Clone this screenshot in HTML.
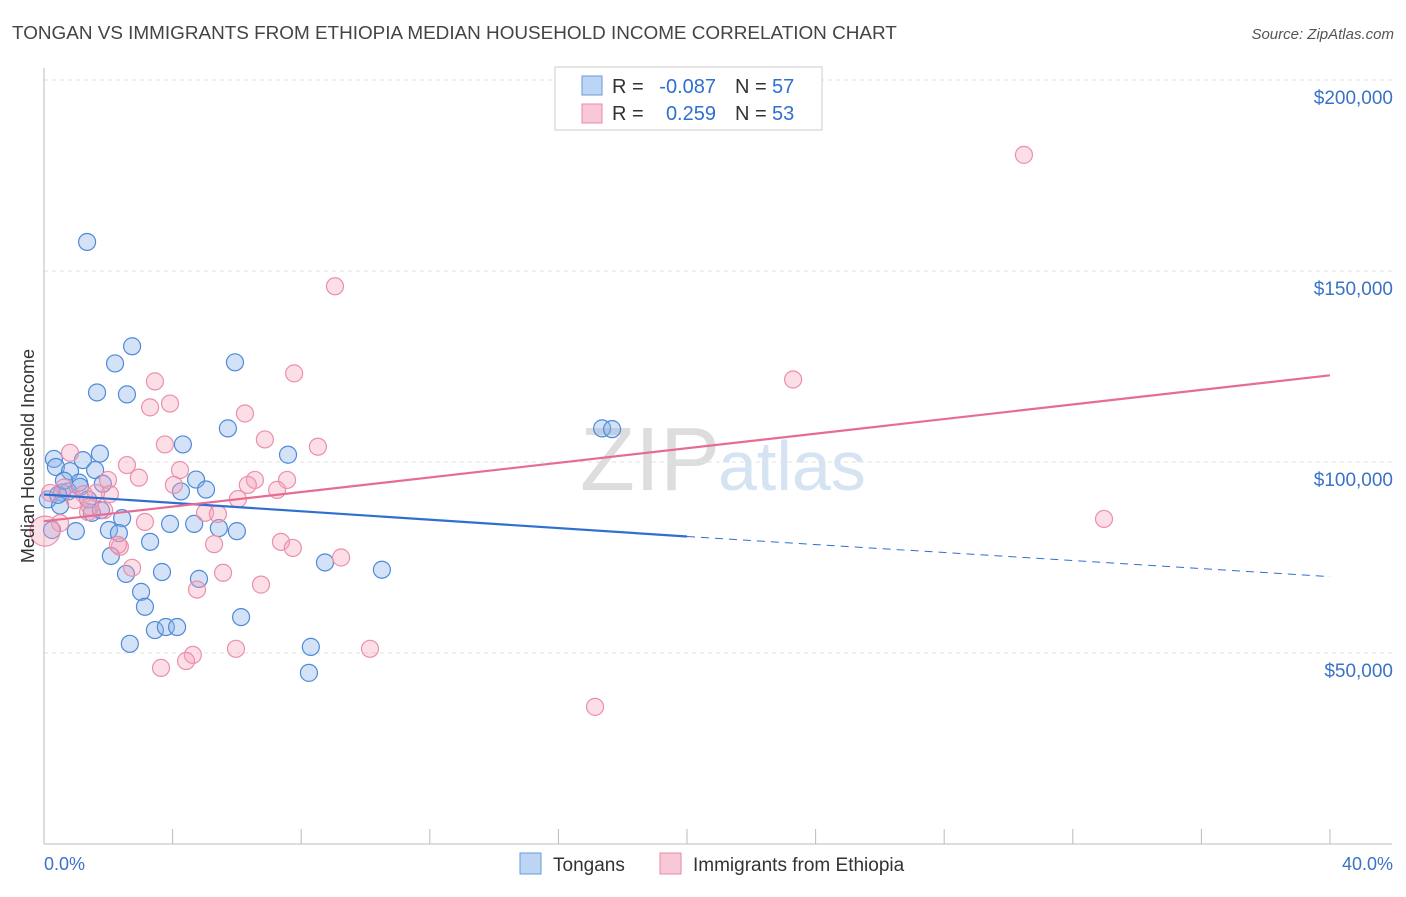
<!DOCTYPE html>
<html><head><meta charset="utf-8"><style>
body{margin:0;background:#fff;font-family:"Liberation Sans",sans-serif}
svg text{font-family:"Liberation Sans",sans-serif}
</style></head><body>
<svg width="1406" height="892" viewBox="0 0 1406 892" xmlns="http://www.w3.org/2000/svg">
<text x="12" y="39" font-size="18.9" fill="#444">TONGAN VS IMMIGRANTS FROM ETHIOPIA MEDIAN HOUSEHOLD INCOME CORRELATION CHART</text>
<text x="1394" y="39" font-size="15" fill="#555" font-style="italic" text-anchor="end">Source: ZipAtlas.com</text>
<text x="720" y="490" font-size="90" fill="#ddd" text-anchor="end" font-family="Liberation Serif">ZIP</text>
<text x="718" y="490" font-size="70" fill="#d5e3f3">atlas</text>
<g id="grid"></g>
<g id="axes"></g>
<g id="pts"></g>
<g id="trend"></g>
<text transform="translate(34,456) rotate(-90)" font-size="18" fill="#333" text-anchor="middle">Median Household Income</text>
<g>
<rect x="555" y="67" width="267" height="63" fill="#fff" stroke="#ccc"/>
<rect x="582" y="76" width="20" height="19" fill="#bcd5f5" stroke="#6a9ad8"/>
<rect x="582" y="104" width="20" height="19" fill="#f9c8d6" stroke="#e88aa6"/>
<text x="612" y="93" font-size="20" fill="#333">R =</text>
<text x="716" y="93" font-size="20" fill="#2e6fd0" text-anchor="end">-0.087</text>
<text x="735" y="93" font-size="20" fill="#333">N =</text>
<text x="772" y="93" font-size="20" fill="#2e6fd0">57</text>
<text x="612" y="120" font-size="20" fill="#333">R =</text>
<text x="716" y="120" font-size="20" fill="#2e6fd0" text-anchor="end">0.259</text>
<text x="735" y="120" font-size="20" fill="#333">N =</text>
<text x="772" y="120" font-size="20" fill="#2e6fd0">53</text>
</g>
<g>
<rect x="520" y="853" width="21" height="21" fill="#bcd5f5" stroke="#6a9ad8"/>
<text x="553" y="871" font-size="19" fill="#333">Tongans</text>
<rect x="660" y="853" width="21" height="21" fill="#f9c8d6" stroke="#e88aa6"/>
<text x="693" y="871" font-size="19" fill="#333">Immigrants from Ethiopia</text>
</g>
<text x="44" y="870" font-size="18" fill="#3a72c8">0.0%</text>
<text x="1393" y="870" font-size="18" fill="#3a72c8" text-anchor="end">40.0%</text>
</svg>
<script>
const yTicks=[50000,100000,150000,200000];
const yTickLabels=["$50,000","$100,000","$150,000","$200,000"];
const tonX=[1.34,2.74,2.21,5.94,1.65,2.58,17.36,17.67,5.72,4.32,1.74,7.59,0.31,1.21,0.37,0.81,1.59,1.83,1.09,4.73,0.56,0.75,4.26,5.04,0.12,0.50,1.49,1.77,2.43,3.92,4.67,5.44,6.00,0.99,2.02,2.33,3.30,2.08,8.74,10.51,2.55,3.67,4.82,3.02,3.14,6.13,3.45,3.79,4.14,2.67,8.30,8.24,0.25,1.12,0.44,1.37,0.62];
const tonY=[157600,130300,125800,126100,118200,117700,108800,108600,108800,104600,102200,101900,100800,100500,98700,97600,97900,94300,94600,95400,92000,92300,92300,92800,90200,88600,86700,87400,85300,83800,83800,82700,81900,81900,82200,81400,79100,75400,73700,71800,70700,71200,69400,66000,62100,59400,56000,56800,56800,52400,51600,44800,82200,93500,91400,90200,95100];
const ethX=[30.48,9.05,7.78,23.30,3.45,3.92,3.30,6.25,6.87,3.76,8.52,0.81,2.58,4.23,2.95,6.56,1.99,4.04,7.56,6.34,7.25,0.62,1.24,0.19,6.03,2.05,1.87,1.43,5.01,5.41,32.97,3.14,0.50,0.03,7.37,2.36,5.29,7.74,2.30,9.24,2.74,5.57,6.75,4.76,5.97,10.14,4.63,4.42,3.64,17.14,1.62,0.96,1.37];
const ethY=[180400,146000,123200,121600,121100,115300,114300,112700,105900,104600,104000,102400,99200,97900,95900,95300,95300,94000,95300,94000,92700,93300,91600,91900,90300,91600,87400,88300,86700,86400,85100,84300,84000,81900,79100,77800,78500,77500,78300,75000,72300,71000,67900,66600,51100,51100,49500,47900,46100,35900,91900,90000,86900];
const X=v=>44+v*32.15, Y=v=>844-v/50000*191;
const ns='http://www.w3.org/2000/svg';
function mk(tag,attrs,parent){const e=document.createElementNS(ns,tag);for(const k in attrs)e.setAttribute(k,attrs[k]);parent.appendChild(e);return e;}
const grid=document.getElementById('grid'),axes=document.getElementById('axes');
yTicks.forEach((t,i)=>{
 const l=mk('line',{x1:44,x2:1392,y1:Y(t),y2:Y(t),stroke:'#e2e2e2','stroke-dasharray':'4,4'},grid);
 
 
 const tx=mk('text',{x:1393,y:Y(t)+24,'font-size':19,fill:'#3a72c8','text-anchor':'end'},axes);
 tx.textContent=yTickLabels[i];
 
 
});
const ax=mk('line',{x1:44,x2:44,y1:68,y2:844,stroke:'#bbb'},axes);


const bx=mk('line',{x1:44,x2:1392,y1:844,y2:844,stroke:'#bbb'},axes);


for(let i=0;i<=10;i++){const t=mk('line',{x1:X(i*4),x2:X(i*4),y1:829,y2:844,stroke:'#bbb'},axes);
 
 }
const pts=document.getElementById('pts');
tonX.forEach((x,i)=>{const c=mk('circle',{cx:X(x),cy:Y(tonY[i]),r:8.5,fill:'rgba(140,180,235,0.38)',stroke:'#4f8ad8','stroke-width':1.2},pts);
 
 });
ethX.forEach((x,i)=>{const c=mk('circle',{cx:X(x),cy:Y(ethY[i]),r:i==33?15:8.5,fill:'rgba(245,160,185,0.35)',stroke:'#ec8fab','stroke-width':1.2},pts);
 
 });
const tr=document.getElementById('trend');
const b1=mk('line',{x1:X(0),y1:Y(91500),x2:X(20),y2:Y(80500),stroke:'#2f6fd1','stroke-width':2.2},tr);


const b2=mk('line',{x1:X(20),y1:Y(80500),x2:X(40),y2:Y(70000),stroke:'#2f6fd1','stroke-width':1,'stroke-dasharray':'8,6'},tr);


const p1=mk('line',{x1:X(0),y1:Y(84500),x2:X(40),y2:Y(122700),stroke:'#e56d94','stroke-width':2.2},tr);


</script>
</body></html>
